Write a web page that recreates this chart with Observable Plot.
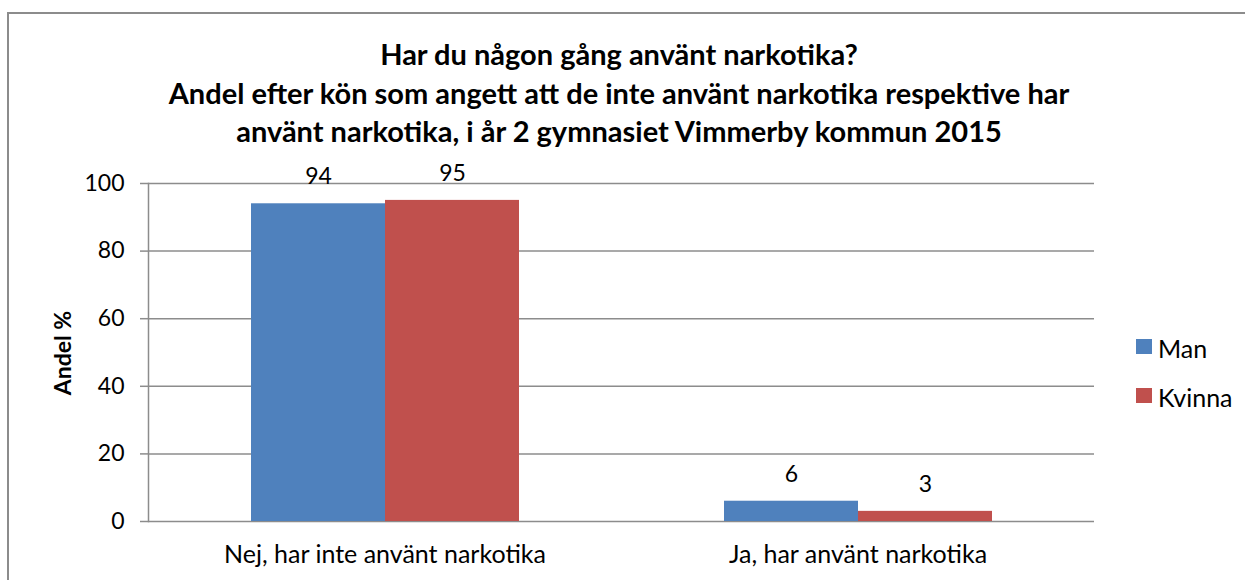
<!DOCTYPE html>
<html><head><meta charset="utf-8">
<script src="https://cdn.jsdelivr.net/npm/d3@7"></script>
<script src="https://cdn.jsdelivr.net/npm/@observablehq/plot@0.6"></script>
<style>
body{margin:0;background:#fff;font-family:Lato,sans-serif;}
#wrap{position:relative;width:1245px;height:580px;overflow:hidden;background:#fff;}
#frame{position:absolute;left:7px;top:12px;width:1300px;height:700px;border:2px solid #8c8c8c;}
#title{position:absolute;left:0;top:35px;width:1238px;text-align:center;font-weight:bold;font-size:29px;line-height:38.5px;color:#000;}
#chart{position:absolute;left:0;top:150px;}
#ylabel{position:absolute;left:62px;top:353px;transform:translate(-50%,-50%) rotate(-90deg);font-weight:bold;font-size:23px;white-space:nowrap;color:#000;}
.leg{position:absolute;font-size:25px;line-height:25px;color:#000;white-space:nowrap;}
.sw{position:absolute;width:16px;height:15px;}
</style></head>
<body>
<div id="wrap">
  <div id="frame"></div>
  <div id="title"></div>
  <div id="chart"></div>
  <div id="ylabel"></div>
  <div id="legend"></div>
</div>
<script>
const titleLines = [
  "Har du någon gång använt narkotika?",
  "Andel efter kön som angett att de inte använt narkotika respektive har",
  "använt narkotika, i år 2 gymnasiet Vimmerby kommun 2015"
];
const yLabel = "Andel %";
const categories = ["Nej, har inte använt narkotika", "Ja, har använt narkotika"];
const series = ["Man", "Kvinna"];
const manValues = [94, 6];
const kvinnaValues = [95, 3];
const yTicks = [0, 20, 40, 60, 80, 100];
const colors = ["#4F81BD", "#C0504D"];

const seriesValues = [manValues, kvinnaValues];
const data = categories.flatMap((c, i) => series.map((s, j) => ({cat: c, sex: s, value: seriesValues[j][i]})));

document.getElementById("title").innerHTML = titleLines.map(t => `<div>${t}</div>`).join("");
document.getElementById("ylabel").textContent = yLabel;

const legend = document.getElementById("legend");
series.forEach((s, i) => {
  const sw = document.createElement("div");
  sw.className = "sw";
  sw.style.left = "1136px";
  sw.style.top = (339 + i * 49) + "px";
  sw.style.background = colors[i];
  legend.appendChild(sw);
  const t = document.createElement("div");
  t.className = "leg";
  t.style.left = "1158px";
  t.style.top = (336 + i * 49) + "px";
  t.textContent = s;
  legend.appendChild(t);
});

const chart = Plot.plot({
  width: 1245, height: 430,
  marginLeft: 148, marginRight: 151, marginTop: 33, marginBottom: 59,
  style: {fontFamily: "Lato", fontSize: "22px", color: "#000", background: "transparent", overflow: "visible"},
  fx: {domain: categories, paddingInner: 0, paddingOuter: 0, label: null},
  x: {domain: series, paddingInner: 0, paddingOuter: 0.752, axis: null},
  y: {domain: [0, 100], label: null},
  color: {domain: series, range: colors},
  marks: [
    Plot.gridY(yTicks, {stroke: "#8c8c8c", strokeOpacity: 1, strokeWidth: 1.5}),
    Plot.axisY(yTicks, {tickSize: 8, tickPadding: 16, stroke: "#8c8c8c", strokeWidth: 1.5, label: null, fontSize: 23}),
    Plot.axisFx({anchor: "bottom", tickSize: 0, tickPadding: 24, label: null, fontSize: 25}),
    Plot.frame({anchor: "left", stroke: "#8c8c8c", strokeWidth: 1.5, facetAnchor: "left"}),
    Plot.barY(data, {fx: "cat", x: "sex", y: "value", fill: "sex"}),
    Plot.text(data, {fx: "cat", x: "sex", y: "value", text: d => String(d.value), dy: -27, fontSize: 23})
  ]
});
document.getElementById("chart").appendChild(chart);
</script>
</body></html>
